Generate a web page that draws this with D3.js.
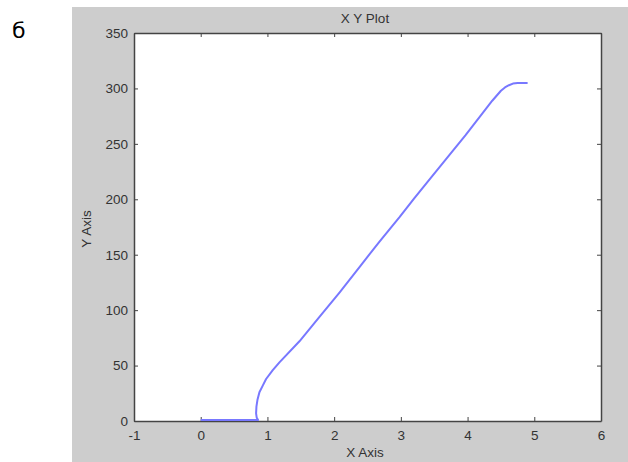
<!DOCTYPE html>
<html>
<head>
<meta charset="utf-8">
<script src="https://cdn.jsdelivr.net/npm/d3@7"></script>
<style>
  body { margin: 0; background: #fff; }
  svg { display: block; }
  .tick text { font-family: "Liberation Sans", Arial, sans-serif; font-size: 13.5px; fill: #333; }
  .axis path, .axis line { stroke: #444; }
  .lbl { font-family: "Liberation Sans", Arial, sans-serif; font-size: 13.5px; fill: #333; }
</style>
</head>
<body>
<svg id="chart" width="628" height="462"></svg>
<script>
// tick values
const xTicks = [-1, 0, 1, 2, 3, 4, 5, 6];
const yTicks = [0, 50, 100, 150, 200, 250, 300, 350];

// curve
const xValues = [0, 0.86, 0.84, 0.83, 0.835, 0.85, 0.88, 0.93, 0.98, 1.08, 1.18, 1.48, 1.78, 2.08, 2.38, 2.68, 2.98, 3.2, 3.47, 3.97, 4.37, 4.5, 4.56, 4.62, 4.68, 4.75, 4.9];
const yValues = [0, 0, 2, 6, 12, 18, 25, 31, 37, 45, 52, 71, 93, 115, 138, 161, 183, 200, 220, 257, 288, 297, 300, 302, 303.5, 304, 304];

const svg = d3.select("#chart");

// grey figure panel
svg.append("rect")
  .attr("x", 72).attr("y", 7)
  .attr("width", 556).attr("height", 455)
  .attr("fill", "#cdcdcd");

const margin = { left: 134, right: 601, top: 33, bottom: 421 };

const x = d3.scaleLinear().domain([-1, 6]).range([margin.left, margin.right]);
const y = d3.scaleLinear().domain([0, 350]).range([margin.bottom, margin.top]);

// white axes area
svg.append("rect")
  .attr("x", margin.left).attr("y", margin.top)
  .attr("width", margin.right - margin.left)
  .attr("height", margin.bottom - margin.top)
  .attr("fill", "#fff");

// axes, ticks pointing inward
svg.append("g")
  .attr("class", "axis")
  .attr("transform", `translate(0,${margin.bottom})`)
  .call(d3.axisBottom(x).tickValues(xTicks).tickFormat(d3.format("d")).tickSizeInner(-4).tickSizeOuter(0).tickPadding(9));

svg.append("g")
  .attr("class", "axis")
  .attr("transform", `translate(${margin.left},0)`)
  .call(d3.axisLeft(y).tickValues(yTicks).tickSizeInner(-4).tickSizeOuter(0).tickPadding(6));

svg.append("g")
  .attr("class", "axis")
  .attr("transform", `translate(0,${margin.top})`)
  .call(d3.axisTop(x).tickValues(xTicks).tickFormat("").tickSizeInner(-4).tickSizeOuter(0));

svg.append("g")
  .attr("class", "axis")
  .attr("transform", `translate(${margin.right},0)`)
  .call(d3.axisRight(y).tickValues(yTicks).tickFormat("").tickSizeInner(-4).tickSizeOuter(0));

svg.selectAll(".axis path.domain").attr("stroke-width", 1.5);

// minus sign as plain hyphen like the original
svg.selectAll(".tick text").text(function () { return this.textContent.replace("\u2212", "-"); });

// data line, drawn over the axes like the original
const line = d3.line()
  .x((d, i) => x(xValues[i]))
  .y((d, i) => y(yValues[i]));

svg.append("path")
  .datum(xValues)
  .attr("d", line)
  .attr("transform", "translate(0,-1)")
  .attr("fill", "none")
  .attr("stroke", "#7878ff")
  .attr("stroke-width", 2)
  .attr("stroke-linejoin", "round");

// labels
svg.append("text")
  .attr("class", "lbl")
  .attr("x", 365).attr("y", 23)
  .attr("text-anchor", "middle")
  .text("X Y Plot");

svg.append("text")
  .attr("class", "lbl")
  .attr("x", 365).attr("y", 457)
  .attr("text-anchor", "middle")
  .text("X Axis");

svg.append("text")
  .attr("class", "lbl")
  .attr("transform", "translate(91,229) rotate(-90)")
  .attr("text-anchor", "middle")
  .text("Y Axis");

svg.append("text")
  .attr("x", 12).attr("y", 38)
  .attr("font-family", "'DejaVu Sans', sans-serif")
  .attr("font-size", 22)
  .attr("fill", "#000")
  .text("б");
</script>
</body>
</html>
